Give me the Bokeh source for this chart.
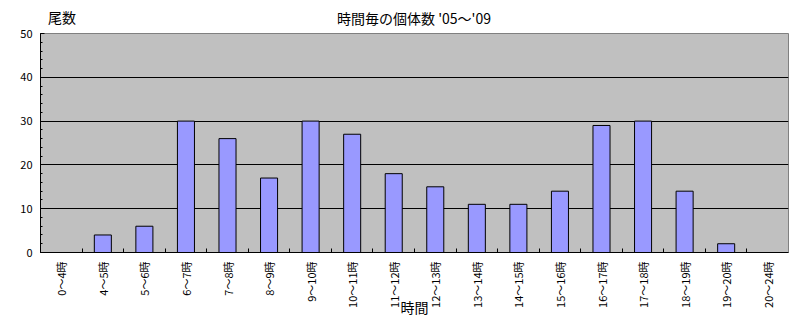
import math
from bokeh.plotting import figure
from bokeh.layouts import column
from bokeh.models import FixedTicker, Range1d, ColumnDataSource
from bokeh.core.properties import value
from bokeh.embed import file_html
from bokeh.resources import INLINE

categories = ["0～4時", "4～5時", "5～6時", "6～7時", "7～8時", "8～9時", "9～10時",
              "10～11時", "11～12時", "12～13時", "13～14時", "14～15時", "15～16時",
              "16～17時", "17～18時", "18～19時", "19～20時", "20～24時"]
counts = [0, 4, 6, 30, 26, 17, 30, 27, 18, 15, 11, 11, 14, 29, 30, 14, 2, 0]
y_ticks = [0, 10, 20, 30, 40, 50]
title_text = "時間毎の個体数 '05～'09"
y_label_text = "尾数"
x_label_text = "時間"

FONT = "Noto Sans CJK JP"
n = len(categories)
centers = [i + 0.5 for i in range(n)]

HEAD_H = 26

# header strip holding the title and the y-axis caption
head = figure(width=803, height=HEAD_H, output_backend="svg", toolbar_location=None,
              x_range=Range1d(0, 803), y_range=Range1d(HEAD_H, 0),
              min_border=0, min_border_left=0, min_border_right=0,
              min_border_top=0, min_border_bottom=0)
head.title = None
head.axis.visible = False
head.grid.visible = False
head.outline_line_color = None
head.background_fill_color = "white"
head.border_fill_color = "white"
head.text(x=[8], y=[16], text=[y_label_text], text_font=value(FONT),
          text_font_size="14px", text_align="left", text_baseline="middle",
          text_color="black")
head.text(x=[401], y=[17], text=[title_text], text_font=value(FONT),
          text_font_size="14px", text_align="center", text_baseline="middle",
          text_color="black")

p = figure(width=803, height=319 - HEAD_H, output_backend="svg", toolbar_location=None,
           x_range=Range1d(0, n), y_range=Range1d(0, 50),
           min_border_left=40, min_border_right=15, min_border_top=33 - HEAD_H,
           min_border_bottom=67)
p.title = None
p.background_fill_color = "#C0C0C0"
p.border_fill_color = "white"
p.outline_line_color = "#808080"

src = ColumnDataSource(dict(x=centers, top=counts))
p.vbar(x="x", top="top", width=0.41, bottom=0, source=src,
       fill_color="#9999FF", line_color="black", line_width=1)

p.xgrid.visible = False
p.ygrid.ticker = FixedTicker(ticks=y_ticks[1:-1])
p.ygrid.grid_line_color = "black"
p.ygrid.grid_line_width = 1

yax = p.yaxis[0]
yax.ticker = FixedTicker(ticks=y_ticks, minor_ticks=list(range(0, 51, 2)))
yax.major_tick_in = 4
yax.major_tick_out = 0
yax.minor_tick_in = 2
yax.minor_tick_out = 0
yax.axis_line_color = "black"
yax.major_label_text_font = FONT
yax.major_label_text_font_size = "11px"
yax.major_label_text_color = "black"
yax.major_label_standoff = 8

xax = p.xaxis[0]
xax.ticker = FixedTicker(ticks=centers, minor_ticks=list(range(1, n)))
xax.major_label_overrides = {c: lab for c, lab in zip(centers, categories)}
xax.major_tick_in = 0
xax.major_tick_out = 0
xax.minor_tick_in = 4
xax.minor_tick_out = 0
xax.axis_line_color = "black"
xax.major_label_orientation = math.pi / 2
xax.major_label_text_font = FONT
xax.major_label_text_font_size = "11px"
xax.major_label_text_color = "black"
xax.major_label_standoff = 9
xax.axis_label = x_label_text
xax.axis_label_text_font = FONT
xax.axis_label_text_font_size = "14px"
xax.axis_label_text_font_style = "normal"
xax.axis_label_text_color = "black"
xax.axis_label_standoff = -14

layout = column(head, p, spacing=0)
open("out.html", "w").write(file_html(layout, INLINE))
